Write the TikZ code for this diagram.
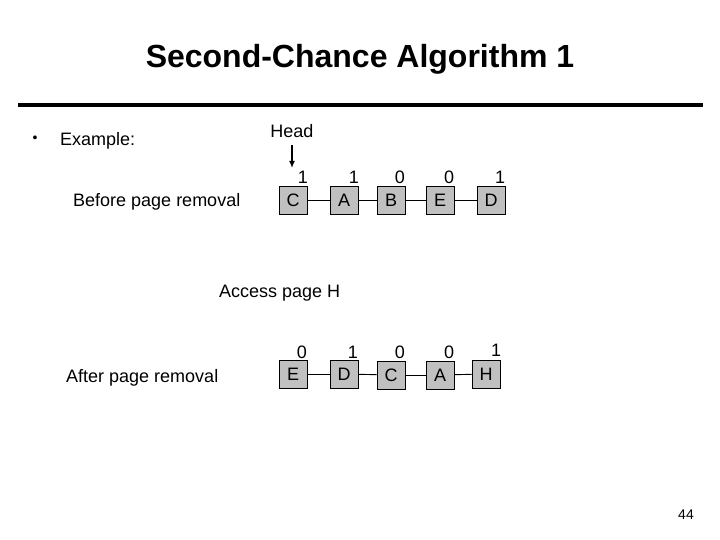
\documentclass[tikz,border=0pt]{standalone}
\usepackage{fontspec}
\setmainfont{Liberation Sans}
\usetikzlibrary{arrows.meta}
\definecolor{boxgray}{RGB}{192,192,192}
\tikzset{
  pagebox/.style={draw=black, line width=0.8pt, fill=boxgray, minimum width=28pt, minimum height=28pt, text height=13pt, text depth=0pt, inner sep=0pt, font=\fontsize{18}{21}\selectfont},
  bitlbl/.style={inner sep=0pt, font=\fontsize{18}{21}\selectfont},
  txt/.style={inner sep=0pt, font=\fontsize{18}{21}\selectfont},
  link/.style={draw=black, line width=0.9pt},
}
\begin{document}
\begin{tikzpicture}[x=1pt,y=-1pt]
\useasboundingbox (0,0) rectangle (720,540);
% title
\node[inner sep=0pt, anchor=base, font=\bfseries\fontsize{32}{38}\selectfont] (title) at (360,68) {Second-Chance Algorithm 1};
\draw[line width=4pt] (18,105) -- (703,105);
% bullet text
\node[inner sep=0pt, font=\fontsize{14}{16}\selectfont] (bullet) at (35,139) {•};
\node[txt, anchor=base west] (example) at (60,146) {Example:};
\node[txt, anchor=base] (head) at (292,138) {Head};
\node[txt, anchor=base west] (before) at (73,207) {Before page removal};
\node[txt, anchor=base west] (access) at (219,297) {Access page H};
\node[txt, anchor=base west] (after) at (66,382) {After page removal};
\node[inner sep=0pt, font=\fontsize{14}{16}\selectfont] (pagenum) at (686,515) {44};
% top row
\node[pagebox] (c1) at (293,200) {C};
\node[pagebox] (a1) at (344,200) {A};
\node[pagebox] (b1) at (391,200) {B};
\node[pagebox] (e1) at (440,200) {E};
\node[pagebox] (d1) at (491,200) {D};
\draw[link] (c1) -- (a1);
\draw[link] (a1) -- (b1);
\draw[link] (b1) -- (e1);
\draw[link] (e1) -- (d1);
\node[bitlbl] (bc1) at (303,177) {1};
\node[bitlbl] (ba1) at (354,177) {1};
\node[bitlbl] (bb1) at (400,177) {0};
\node[bitlbl] (be1) at (449,177) {0};
\node[bitlbl] (bd1) at (500,177) {1};
% head arrow
\coordinate (hstart) at (292,145);
\coordinate (htip) at (292,168);
\draw[line width=1.5pt, -{Latex[length=7pt,width=6pt]}] (hstart) -- (htip);
% bottom row
\node[pagebox] (e2) at (293,374) {E};
\node[pagebox] (d2) at (344,374) {D};
\node[pagebox] (c2) at (391,375) {C};
\node[pagebox] (a2) at (440,375) {A};
\node[pagebox] (h2) at (486,374) {H};
\draw[link] (e2) -- (d2);
\draw[link] (d2) -- (c2);
\draw[link] (c2) -- (a2);
\draw[link] (a2) -- (h2);
\node[bitlbl] (be2) at (302,352) {0};
\node[bitlbl] (bd2) at (353,352) {1};
\node[bitlbl] (bc2) at (400,352) {0};
\node[bitlbl] (ba2) at (449,352) {0};
\node[bitlbl] (bh2) at (496,350) {1};
\end{tikzpicture}
\end{document}
